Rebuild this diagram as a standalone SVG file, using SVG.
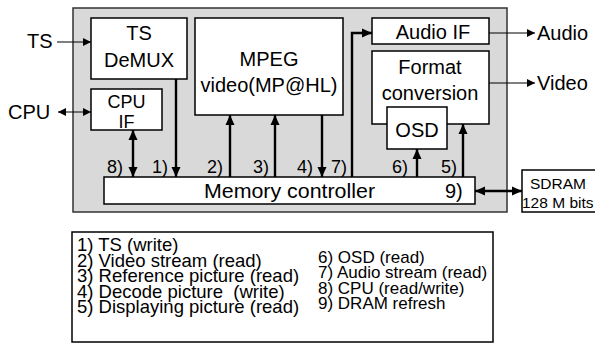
<svg xmlns="http://www.w3.org/2000/svg" width="595" height="344" viewBox="0 0 595 344">
<defs>
<style>
text{font-family:"Liberation Sans",Arial,sans-serif;fill:#000;white-space:pre}
.box{fill:#fff;stroke:#000;stroke-width:1.5}
.t20{font-size:20px}
.t18{font-size:18px}
.t15{font-size:15.5px}
.lg1{font-size:18.5px}
.lg2{font-size:17px}
.mid{text-anchor:middle}
.thin{stroke:#000;stroke-width:1.2;fill:none}
.thick{stroke:#000;stroke-width:2.4;fill:none}
</style>
<marker id="ah" viewBox="0 0 10 10" refX="10" refY="5" markerWidth="8" markerHeight="8" markerUnits="userSpaceOnUse" orient="auto-start-reverse"><path d="M0,0L10,5L0,10z" fill="#000"/></marker>
<marker id="ahs" viewBox="0 0 10 10" refX="10" refY="5" markerWidth="10" markerHeight="10" markerUnits="userSpaceOnUse" orient="auto-start-reverse"><path d="M0,0.5L10,5L0,9.5z" fill="#000"/></marker>
</defs>
<rect id="chip" x="73" y="8" width="434" height="204" fill="#d9d9d9" stroke="#333" stroke-width="1.5"/>
<g id="demux"><rect class="box" x="91" y="18" width="96" height="61"/><text class="t20 mid" x="139" y="40">TS</text><text class="t20 mid" x="139" y="67">DeMUX</text></g>
<g id="cpuif"><rect class="box" x="91" y="89" width="71" height="41"/><text class="t18 mid" x="126.5" y="108">CPU</text><text class="t18 mid" x="126.5" y="128">IF</text></g>
<g id="mpeg"><rect class="box" x="195" y="18" width="148" height="97"/><text class="t20 mid" x="269" y="66">MPEG</text><text class="t20 mid" x="269" y="92">video(MP@HL)</text></g>
<g id="audioif"><rect class="box" x="372" y="18" width="117" height="26"/><text class="t20 mid" x="433" y="39">Audio IF</text></g>
<g id="format"><rect class="box" x="372" y="51" width="117" height="73"/><text class="t20 mid" x="430" y="74">Format</text><text class="t20 mid" x="430" y="100">conversion</text></g>
<g id="osd"><rect class="box" x="387" y="107" width="60" height="42"/><text class="t20 mid" x="417" y="137">OSD</text></g>
<g id="memctrl"><rect class="box" x="104" y="177" width="371" height="27"/><text class="t20" x="204" y="198" textLength="171" lengthAdjust="spacingAndGlyphs">Memory controller</text><text class="t20" x="445" y="198">9)</text></g>
<g id="sdram"><rect class="box" x="522" y="170" width="80" height="42"/><text class="t15 mid" x="558" y="189">SDRAM</text><text class="t15" x="522" y="208">128 M bits</text></g>
<g id="labels">
<text class="t20" x="27" y="48">TS</text>
<text class="t20" x="8" y="119">CPU</text>
<text class="t20" x="537" y="40">Audio</text>
<text class="t20" x="537" y="90">Video</text>
<text class="t18" x="107" y="173">8)</text>
<text class="t18" x="152" y="173">1)</text>
<text class="t18" x="207" y="173">2)</text>
<text class="t18" x="253" y="173">3)</text>
<text class="t18" x="297" y="173">4)</text>
<text class="t18" x="331" y="173">7)</text>
<text class="t18" x="392" y="173">6)</text>
<text class="t18" x="441" y="173">5)</text>
</g>
<g id="connectors">
<line class="thin" x1="57" y1="42" x2="91" y2="42" marker-end="url(#ah)"/>
<line class="thin" x1="58" y1="112" x2="91" y2="112" marker-start="url(#ah)" marker-end="url(#ah)"/>
<line class="thin" x1="489" y1="33" x2="535" y2="33" marker-end="url(#ah)"/>
<line class="thin" x1="489" y1="83" x2="535" y2="83" marker-end="url(#ah)"/>
<line class="thick" x1="133" y1="130" x2="133" y2="177" marker-start="url(#ahs)" marker-end="url(#ahs)"/>
<line class="thick" x1="176" y1="79" x2="176" y2="177" marker-end="url(#ahs)"/>
<line class="thick" x1="230" y1="177" x2="230" y2="115" marker-end="url(#ahs)"/>
<line class="thick" x1="275" y1="177" x2="275" y2="115" marker-end="url(#ahs)"/>
<line class="thick" x1="322" y1="115" x2="322" y2="177" marker-end="url(#ahs)"/>
<polyline class="thick" points="352,177 352,33 372,33" marker-end="url(#ahs)"/>
<line class="thick" x1="417" y1="177" x2="417" y2="149" marker-end="url(#ahs)"/>
<line class="thick" x1="463" y1="177" x2="463" y2="124" marker-end="url(#ahs)"/>
<line class="thick" x1="475" y1="191" x2="522" y2="191" marker-start="url(#ahs)" marker-end="url(#ahs)"/>
</g>
<g id="legend">
<rect x="72" y="232" width="421" height="110" fill="#fff" stroke="#000" stroke-width="1.5"/>
<text class="lg1" x="77" y="251">1) TS (write)</text>
<text class="lg1" x="77" y="266.5">2) Video stream (read)</text>
<text class="lg1" x="77" y="282">3) Reference picture (read)</text>
<text class="lg1" x="77" y="297.5">4) Decode picture  (write)</text>
<text class="lg1" x="77" y="313">5) Displaying picture (read)</text>
<text class="lg2" x="318" y="262.5">6) OSD (read)</text>
<text class="lg2" x="318" y="278">7) Audio stream (read)</text>
<text class="lg2" x="318" y="293.5">8) CPU (read/write)</text>
<text class="lg2" x="318" y="309">9) DRAM refresh</text>
</g>
</svg>
